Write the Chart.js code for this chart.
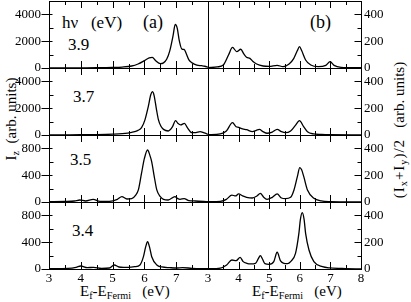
<!DOCTYPE html>
<html>
<head>
<meta charset="utf-8">
<script src="https://cdn.jsdelivr.net/npm/chart.js@4"></script>
<style>
    html, body { margin: 0; padding: 0; background: #fff; }
    #wrap { position: relative; width: 411px; height: 302px; overflow: hidden;
            font-family: "Liberation Serif", "DejaVu Serif", serif; color: #000; }
    #wrap canvas { position: absolute; left: 0; top: 0; }
    .lbl { position: absolute; white-space: nowrap; line-height: 1; }
    .lbl sub { font-size: 68%; vertical-align: -0.3em; line-height: 0; }
    .rot { transform: translate(-50%, -50%) rotate(-90deg); }
</style>
</head>
<body>
<div id="wrap">
    <div class="lbl" style="left:62px;top:14px;font-size:17px;">h&nu;&nbsp;&nbsp;&nbsp;(eV)</div>
    <div class="lbl" style="left:143px;top:13px;font-size:18px;">(a)</div>
    <div class="lbl" style="left:310px;top:13px;font-size:18px;">(b)</div>
    <div class="lbl" style="left:68px;top:36px;font-size:17px;">3.9</div>
    <div class="lbl" style="left:73px;top:88px;font-size:17px;">3.7</div>
    <div class="lbl" style="left:70px;top:151px;font-size:17px;">3.5</div>
    <div class="lbl" style="left:72px;top:222px;font-size:17px;">3.4</div>
    <div class="lbl" style="left:80px;top:284px;font-size:15px;">E<sub>f</sub>-E<sub>Fermi</sub>&nbsp;&nbsp;&nbsp;(eV)</div>
    <div class="lbl" style="left:252px;top:284px;font-size:15px;">E<sub>f</sub>-E<sub>Fermi</sub>&nbsp;&nbsp;&nbsp;(eV)</div>
    <div class="lbl rot" style="left:11px;top:119px;font-size:15px;">I<sub>z</sub>&nbsp;&nbsp;(arb. units)</div>
    <div class="lbl rot" style="left:399px;top:130px;font-size:15px;"><span style="letter-spacing:1px;">(I<sub>x</sub>+I<sub>y</sub>)/2</span>&nbsp;&nbsp;&nbsp;(arb. units)</div>
</div>
<script>
// ── Data ───────────────────────────────────────────────────────────────────
// panel (a): I_z, one curve per photon energy
var zX39 = [3.0, 3.5, 4.0, 4.5, 5.0, 5.3, 5.6, 5.8, 6.0, 6.15, 6.25, 6.35, 6.5, 6.6, 6.7, 6.8, 6.9, 6.97, 7.03, 7.1, 7.18, 7.25, 7.32, 7.4, 7.5, 7.65, 7.8, 7.9, 8.0];
var zY39 = [10, 10, 15, 20, 40, 70, 150, 300, 550, 760, 800, 560, 320, 380, 650, 1300, 2400, 3250, 3000, 2000, 1400, 1380, 1050, 600, 380, 220, 170, 130, 60];
var zX37 = [3.0, 3.5, 4.0, 4.5, 5.0, 5.3, 5.6, 5.8, 5.91, 6.02, 6.12, 6.2, 6.25, 6.3, 6.38, 6.44, 6.52, 6.6, 6.75, 6.88, 6.98, 7.06, 7.14, 7.26, 7.35, 7.49, 7.62, 7.75, 7.88, 8.0];
var zY37 = [10, 15, 20, 30, 60, 100, 200, 350, 550, 1150, 2100, 3000, 3230, 3000, 1900, 1150, 650, 420, 300, 600, 1070, 850, 750, 870, 550, 170, 180, 250, 150, 50];
var zX35 = [3.0, 3.5, 3.8, 3.97, 4.15, 4.39, 4.6, 4.9, 5.15, 5.29, 5.45, 5.6, 5.72, 5.81, 5.91, 6.0, 6.1, 6.17, 6.23, 6.31, 6.39, 6.5, 6.6, 6.75, 6.96, 7.05, 7.12, 7.25, 7.4, 7.6, 8.0];
var zY35 = [5, 8, 15, 30, 15, 40, 10, 10, 40, 80, 45, 50, 100, 180, 430, 650, 776, 700, 600, 380, 180, 80, 40, 30, 80, 50, 40, 50, 20, 15, 5];
var zX34 = [3.0, 3.6, 3.85, 4.0, 4.2, 4.4, 4.65, 4.9, 5.05, 5.2, 5.35, 5.5, 5.7, 5.86, 5.97, 6.04, 6.1, 6.16, 6.23, 6.39, 6.55, 6.8, 7.0, 7.2, 7.5, 8.0];
var zY34 = [5, 10, 25, 45, 20, 25, 10, 15, 60, 30, 25, 25, 35, 60, 184, 330, 407, 330, 184, 60, 30, 20, 15, 20, 10, 5];
// panel (b): (I_x+I_y)/2
var xyX39 = [3.0, 3.3, 3.5, 3.67, 3.8, 3.94, 4.07, 4.17, 4.26, 4.37, 4.46, 4.59, 4.8, 5.0, 5.26, 5.45, 5.65, 5.8, 5.92, 5.99, 6.06, 6.19, 6.36, 6.6, 6.85, 6.99, 7.12, 7.35, 7.6, 8.0];
var xyY39 = [2, 8, 22, 97, 154, 122, 140, 105, 80, 72, 50, 30, 15, 12, 20, 10, 30, 70, 130, 159, 130, 60, 22, 10, 20, 47, 20, 5, 3, 2];
var xyX37 = [3.0, 3.4, 3.6, 3.8, 3.92, 4.0, 4.13, 4.26, 4.45, 4.58, 4.68, 4.8, 4.93, 5.1, 5.26, 5.4, 5.53, 5.7, 5.85, 5.99, 6.12, 6.25, 6.45, 6.7, 7.0, 8.0];
var xyY37 = [2, 8, 30, 92, 62, 57, 45, 40, 25, 35, 42, 25, 13, 22, 42, 25, 17, 30, 70, 107, 65, 25, 8, 4, 2, 1];
var xyX35 = [3.0, 3.4, 3.6, 3.78, 3.9, 4.0, 4.13, 4.26, 4.45, 4.6, 4.71, 4.82, 4.93, 5.1, 5.26, 5.4, 5.53, 5.7, 5.81, 5.92, 6.0, 6.06, 6.13, 6.25, 6.46, 6.7, 7.0, 8.0];
var xyY35 = [2, 5, 20, 52, 45, 60, 45, 35, 30, 45, 65, 35, 20, 35, 60, 30, 25, 35, 90, 189, 256, 240, 189, 90, 28, 8, 3, 1];
var xyX34 = [3.0, 3.4, 3.61, 3.78, 3.92, 4.05, 4.15, 4.27, 4.4, 4.55, 4.64, 4.71, 4.78, 4.86, 5.0, 5.15, 5.26, 5.37, 5.48, 5.6, 5.7, 5.86, 5.97, 6.02, 6.08, 6.14, 6.19, 6.3, 6.46, 6.74, 7.0, 7.5, 8.0];
var xyY34 = [2, 7, 30, 67, 62, 87, 55, 42, 38, 42, 75, 100, 75, 40, 35, 55, 125, 60, 42, 40, 55, 117, 266, 370, 420, 370, 266, 142, 55, 17, 8, 3, 1];

// ── Ticks ──────────────────────────────────────────────────────────────────
var xMajor = [3, 4, 5, 6, 7, 8];
var xMinor = [3.5, 4.5, 5.5, 6.5, 7.5];
var xLabelsLeft = ["3", "4", "5", "6", "7"];
var xLabelsRight = ["3", "4", "5", "6", "7", "8"];
var yMajorBig = [0, 2000, 4000];
var yMinorBig = [1000, 3000];
var yMajorSmall = [0, 400, 800];
var yMinorSmall = [200, 600];
var yMajorRight = [0, 200, 400];
var yMinorRight = [100, 300];

// ── Layout ─────────────────────────────────────────────────────────────────
var W = 411, H = 302;
var rowTop = [1, 68, 135, 202];
var rowH = 67;
var leftCol = { l: 49, r: 208 };
var rightCol = { l: 208, r: 361 };
var tickFont = '13px "Liberation Serif", serif';

function line(ctx, x1, y1, x2, y2) {
    ctx.beginPath();
    ctx.moveTo(x1, y1);
    ctx.lineTo(x2, y2);
    ctx.stroke();
}

function framePlugin(cfg) {
    return {
        id: "frame",
        afterDraw: function (chart) {
            var ctx = chart.ctx, a = chart.chartArea;
            var sx = chart.scales.x, sy = chart.scales.y;
            ctx.save();
            ctx.strokeStyle = "#000";
            ctx.lineWidth = 1;
            ctx.strokeRect(a.left + 0.5, a.top + 0.5, a.right - a.left, a.bottom - a.top);
            // x ticks, inward on top and bottom
            xMajor.forEach(function (v) {
                var px = Math.round(sx.getPixelForValue(v)) + 0.5;
                line(ctx, px, a.bottom, px, a.bottom - 7);
                line(ctx, px, a.top, px, a.top + 7);
            });
            xMinor.forEach(function (v) {
                var px = Math.round(sx.getPixelForValue(v)) + 0.5;
                line(ctx, px, a.bottom, px, a.bottom - 4);
                line(ctx, px, a.top, px, a.top + 4);
            });
            // y ticks
            var edge = cfg.side === "left" ? a.left + 0.5 : a.right + 0.5;
            var dir = cfg.side === "left" ? 1 : -1;
            cfg.yMajor.forEach(function (v) {
                var py = Math.round(sy.getPixelForValue(v)) + 0.5;
                if (cfg.side === "left") {
                    line(ctx, edge - 8, py, edge + 3, py);
                } else {
                    line(ctx, edge, py, edge - 7, py);
                }
            });
            cfg.yMinor.forEach(function (v) {
                var py = Math.round(sy.getPixelForValue(v)) + 0.5;
                line(ctx, edge, py, edge + dir * 4, py);
            });
            // tick labels
            ctx.fillStyle = "#000";
            ctx.font = tickFont;
            ctx.textBaseline = "middle";
            cfg.yMajor.forEach(function (v) {
                var py = sy.getPixelForValue(v);
                if (cfg.side === "left") {
                    ctx.textAlign = "right";
                    ctx.fillText(String(v), a.left - 8, py);
                } else {
                    ctx.textAlign = "left";
                    ctx.fillText(String(v), a.right + 3, py);
                }
            });
            if (cfg.xLabels) {
                ctx.textAlign = "center";
                ctx.textBaseline = "top";
                cfg.xLabels.forEach(function (t) {
                    ctx.fillText(t, sx.getPixelForValue(Number(t)), a.bottom + 3);
                });
            }
            ctx.restore();
        }
    };
}

function makePanel(row, col, xs, ys, yMax, yMajor, yMinor, side, xLabels) {
    var cv = document.createElement("canvas");
    cv.width = W;
    cv.height = H;
    document.getElementById("wrap").appendChild(cv);
    var top = rowTop[row];
    var pts = xs.map(function (v, i) { return { x: v, y: ys[i] }; });
    return new Chart(cv, {
        type: "line",
        data: {
            datasets: [{
                data: pts,
                borderColor: "#000",
                borderWidth: 1.3,
                pointRadius: 0,
                fill: false,
                cubicInterpolationMode: "monotone"
            }]
        },
        options: {
            responsive: false,
            animation: false,
            events: [],
            devicePixelRatio: 1,
            layout: { padding: { left: col.l, right: W - col.r, top: top, bottom: H - top - rowH } },
            plugins: { legend: { display: false }, tooltip: { enabled: false } },
            scales: {
                x: { type: "linear", min: 3, max: 8, display: false },
                y: { type: "linear", min: 0, max: yMax, display: false }
            }
        },
        plugins: [framePlugin({ side: side, yMajor: yMajor, yMinor: yMinor, xLabels: xLabels })]
    });
}

// ── Panels ─────────────────────────────────────────────────────────────────
makePanel(0, leftCol, zX39, zY39, 5000, yMajorBig, yMinorBig, "left", null);
makePanel(1, leftCol, zX37, zY37, 5000, yMajorBig, yMinorBig, "left", null);
makePanel(2, leftCol, zX35, zY35, 1000, yMajorSmall, yMinorSmall, "left", null);
makePanel(3, leftCol, zX34, zY34, 1000, yMajorSmall, yMinorSmall, "left", xLabelsLeft);
makePanel(0, rightCol, xyX39, xyY39, 500, yMajorRight, yMinorRight, "right", null);
makePanel(1, rightCol, xyX37, xyY37, 500, yMajorRight, yMinorRight, "right", null);
makePanel(2, rightCol, xyX35, xyY35, 500, yMajorRight, yMinorRight, "right", null);
makePanel(3, rightCol, xyX34, xyY34, 500, yMajorRight, yMinorRight, "right", xLabelsRight);
</script>
</body>
</html>
